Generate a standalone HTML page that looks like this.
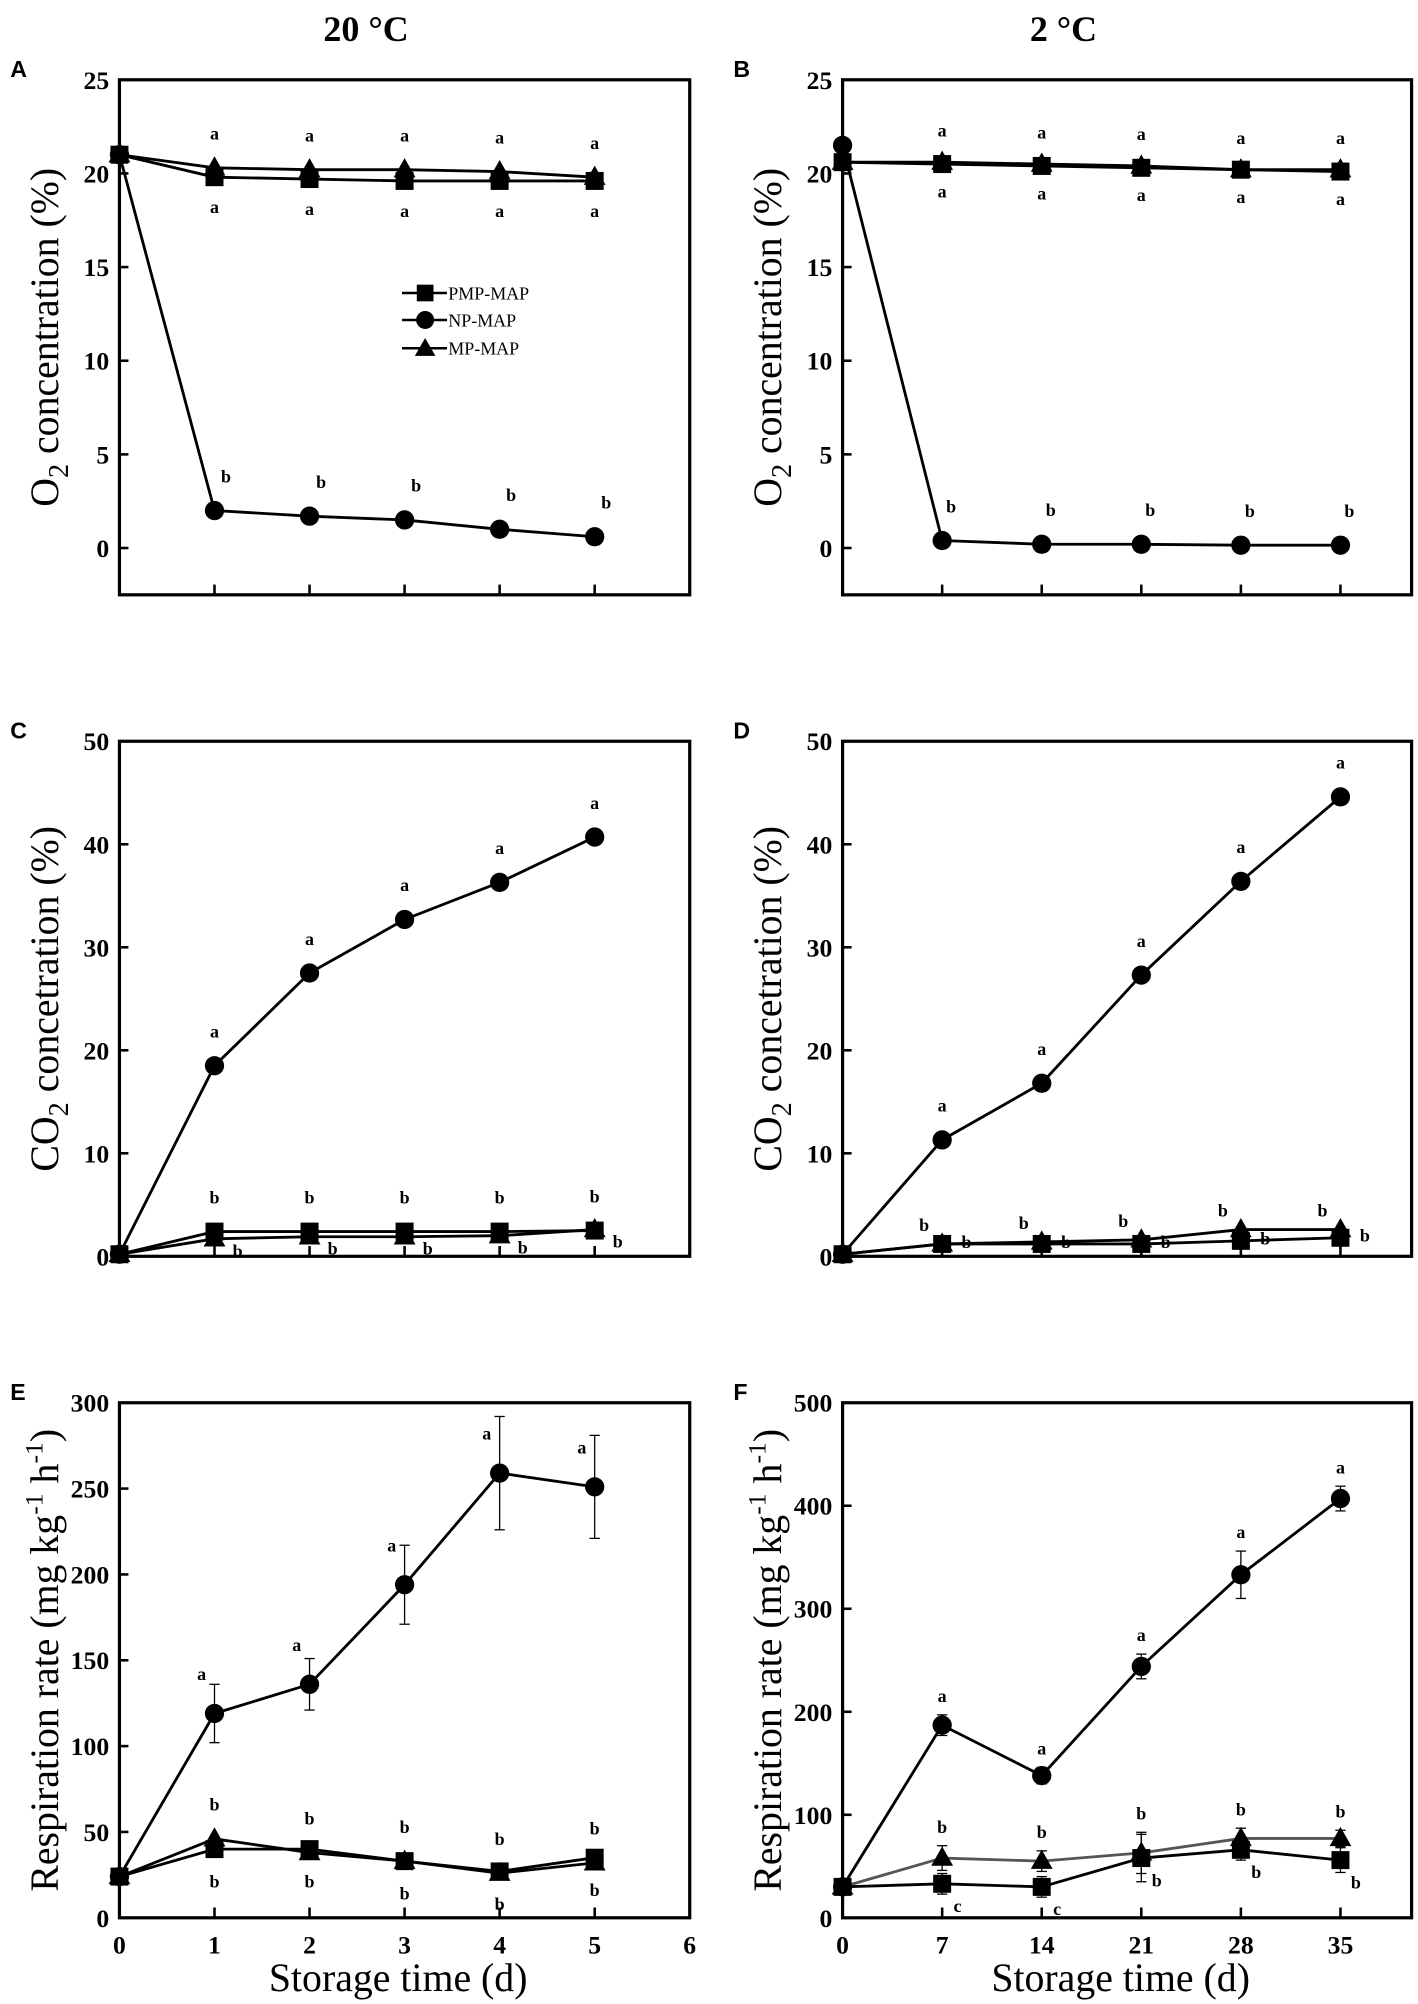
<!DOCTYPE html>
<html><head><meta charset="utf-8"><style>
html,body{margin:0;padding:0;background:#fff}
svg{display:block}
.tk{font-family:"Liberation Serif",serif;font-weight:bold;font-size:20px}
.lt{font-family:"Liberation Serif",serif;font-weight:bold;font-size:14px}
.yt{font-family:"Liberation Serif",serif;font-size:31px}
.pl{font-family:"Liberation Sans",sans-serif;font-weight:bold;font-size:18px}
</style></head><body>
<svg id="fig" width="1418" height="2004" viewBox="0 0 1104 1560" xmlns="http://www.w3.org/2000/svg">
<text x="285" y="32" text-anchor="middle" class="yt" style="font-weight:bold;font-size:28px">20 °C</text>
<text x="828" y="32" text-anchor="middle" class="yt" style="font-weight:bold;font-size:28px">2 °C</text>
</svg>
<script>
// ---- data ----
const daysWarm = [0,1,2,3,4,5];
const daysCold = [0,7,14,21,28,35];
const xTicksWarm = [0,1,2,3,4,5,6];
const xTicksCold = [0,7,14,21,28,35];
const yTicksO2 = [0,5,10,15,20,25];
const yTicksCO2 = [0,10,20,30,40,50];
const yTicksE = [0,50,100,150,200,250,300];
const yTicksF = [0,100,200,300,400,500];

const aPMP = [21,19.8,19.7,19.6,19.6,19.6];
const aNP  = [21,2.0,1.7,1.5,1.0,0.6];
const aMP  = [21,20.3,20.2,20.2,20.1,19.8];
const bPMP = [20.6,20.5,20.4,20.3,20.2,20.1];
const bNP  = [21.5,0.4,0.2,0.2,0.15,0.15];
const bMP  = [20.6,20.6,20.5,20.4,20.2,20.2];
const cPMP = [0.2,2.4,2.4,2.4,2.4,2.5];
const cNP  = [0.2,18.5,27.5,32.7,36.3,40.7];
const cMP  = [0.2,1.7,1.9,1.9,2.0,2.6];
const dPMP = [0.2,1.2,1.2,1.2,1.5,1.8];
const dNP  = [0.2,11.3,16.8,27.3,36.4,44.6];
const dMP  = [0.2,1.2,1.4,1.6,2.6,2.6];
const ePMP = [24,40,40,33,27,35];
const eNP  = [24,119,136,194,259,251];
const eNPerr = [0,17,15,23,33,30];
const eMP  = [24,46,38,33,26,32];
const fPMP = [30,33,30,58,66,56];
const fPMPerr = [0,10,10,23,10,12];
const fNP  = [30,187,138,244,333,407];
const fNPerr = [0,10,8,12,23,12];
const fMP  = [30,58,55,63,77,77];
const fMPerr = [0,12,10,20,10,8];

const lettersA = {NP:['','b','b','b','b','b'], MP:['','a','a','a','a','a'], PMP:['','a','a','a','a','a']};
const lettersC = {NP:['','a','a','a','a','a'], PMP:['','b','b','b','b','b'], MP:['','b','b','b','b','b']};
const lettersE = {NP:['','a','a','a','a','a'], MP:['','b','b','b','b','b'], PMP:['','b','b','b','b','b']};
const lettersF = {NP:['','a','a','a','a','a'], MP:['','b','b','b','b','b'], PMP:['','c','c','b','b','b']};

const NS='http://www.w3.org/2000/svg';
const svg=document.getElementById('fig');
function mk(tag,attrs,parent){const e=document.createElementNS(NS,tag);for(const k in attrs)e.setAttribute(k,attrs[k]);(parent||svg).appendChild(e);return e;}

function panel(p){
  const g=mk('g',{});
  
  
  const X=v=>p.x0+(v-p.xmin)/(p.xmax-p.xmin)*(p.x1-p.x0);
  const Y=v=>p.y1-(v-p.ymin)/(p.ymax-p.ymin)*(p.y1-p.y0);
  const box=mk('rect',{x:p.x0,y:p.y0,width:p.x1-p.x0,height:p.y1-p.y0,fill:'none',stroke:'#000','stroke-width':2.5},g);
  
  
  p.yt.forEach(v=>{
    mk('line',{x1:p.x0,x2:p.x0+7,y1:Y(v),y2:Y(v),stroke:'#000','stroke-width':2},g);
    const t=mk('text',{x:p.x0-8,y:Y(v)+7,'text-anchor':'end',class:'tk'},g);t.textContent=v;
    
    
  });
  p.xt.forEach(v=>{
    if(v>p.xmin) mk('line',{x1:X(v),x2:X(v),y1:p.y1,y2:p.y1-8,stroke:'#000','stroke-width':2},g);
    if(p.xlab){const t=mk('text',{x:X(v),y:p.y1+28,'text-anchor':'middle',class:'tk'},g);t.textContent=v;
      
      }
  });
  if(p.xlab){const t=mk('text',{x:(p.x0+p.x1)/2-5,y:p.y1+57,'text-anchor':'middle',class:'yt'},g);t.textContent='Storage time (d)';
    
    }
  const yc=(p.y0+p.y1)/2;
  const yt=mk('text',{x:0,y:0,'text-anchor':'middle',class:'yt',transform:`translate(${p.x0-48},${yc}) rotate(-90)`},g);
  yt.innerHTML=p.ytitle;
  
  
  const pl=mk('text',{x:p.x0-85,y:p.y0-2,class:'pl'},g);pl.textContent=p.label;
  
  
  p.series.forEach(s=>{
    const sg=mk('g',{},g);
    
    
    if(s.err) s.vals.forEach((v,i)=>{ if(s.err[i]>0){
      mk('line',{x1:X(p.xs[i]),x2:X(p.xs[i]),y1:Y(v-s.err[i]),y2:Y(v+s.err[i]),stroke:'#000','stroke-width':1},sg);
      [v-s.err[i],v+s.err[i]].forEach(e=>mk('line',{x1:X(p.xs[i])-4,x2:X(p.xs[i])+4,y1:Y(e),y2:Y(e),stroke:'#000','stroke-width':1},sg));
    }});
    mk('polyline',{points:s.vals.map((v,i)=>X(p.xs[i])+','+Y(v)).join(' '),fill:'none',stroke:s.color||'#000','stroke-width':2.2},sg);
    s.vals.forEach((v,i)=>{const cx=X(p.xs[i]),cy=Y(v);let m;
      if(s.m==='c') m=mk('circle',{cx:cx,cy:cy,r:7.5,fill:'#000'},sg);
      else if(s.m==='s') m=mk('rect',{x:cx-7,y:cy-7,width:14,height:14,fill:'#000'},sg);
      else m=mk('polygon',{points:`${cx},${cy-9} ${cx-8.5},${cy+6} ${cx+8.5},${cy+6}`,fill:'#000'},sg);
      
      
    });
    if(s.let) s.vals.forEach((v,i)=>{ if(!s.let[i])return;
      const top=(s.err&&!s.noErrLet)?v+s.err[i]:v;
      const ly = s.pos==='below'? Y(v)+s.dy : Y(top)-s.dy;
      const t=mk('text',{x:X(p.xs[i])+(s.dx||0),y:ly,'text-anchor':'middle',class:'lt'},sg);t.textContent=s.let[i];
      
      
    });
  });
}
const L={x0:93,x1:537}, R={x0:656,x1:1099};
const yO2='O<tspan dy="8" font-size="22">2</tspan><tspan dy="-8"> concentration (%)</tspan>';
const yCO2='CO<tspan dy="8" font-size="22">2</tspan><tspan dy="-8"> concetration (%)</tspan>';
const yR='Respiration rate (mg kg<tspan dy="-12" font-size="20">-1</tspan><tspan dy="12"> h</tspan><tspan dy="-12" font-size="20">-1</tspan><tspan dy="12">)</tspan>';
panel({name:'panel-a-o2-20c',label:'A',...L,y0:62,y1:463,xmin:0,xmax:6,ymin:-2.5,ymax:25,xs:daysWarm,xt:[1,2,3,4,5],yt:yTicksO2,ytitle:yO2,
  series:[{name:'pmp-map-series',vals:aPMP,m:'s',let:lettersA.PMP,pos:'below',dy:28},
          {name:'np-map-series',vals:aNP,m:'c',let:lettersA.NP,dy:22,dx:9},
          {name:'mp-map-series',vals:aMP,m:'t',let:lettersA.MP,dy:22}]});
panel({name:'panel-b-o2-2c',label:'B',...R,y0:62,y1:463,xmin:0,xmax:40,ymin:-2.5,ymax:25,xs:daysCold,xt:[7,14,21,28,35],yt:yTicksO2,ytitle:yO2,
  series:[{name:'pmp-map-series',vals:bPMP,m:'s',let:lettersA.PMP,pos:'below',dy:26},
          {name:'np-map-series',vals:bNP,m:'c',let:lettersA.NP,dy:22,dx:7},
          {name:'mp-map-series',vals:bMP,m:'t',let:lettersA.MP,dy:20}]});
panel({name:'panel-c-co2-20c',label:'C',...L,y0:577,y1:978,xmin:0,xmax:6,ymin:0,ymax:50,xs:daysWarm,xt:[1,2,3,4,5],yt:yTicksCO2,ytitle:yCO2,
  series:[{name:'pmp-map-series',vals:cPMP,m:'s',let:lettersC.PMP,dy:22},
          {name:'np-map-series',vals:cNP,m:'c',let:lettersC.NP,dy:22},
          {name:'mp-map-series',vals:cMP,m:'t',let:lettersC.MP,pos:'below',dy:14,dx:18}]});
panel({name:'panel-d-co2-2c',label:'D',...R,y0:577,y1:978,xmin:0,xmax:40,ymin:0,ymax:50,xs:daysCold,xt:[7,14,21,28,35],yt:yTicksCO2,ytitle:yCO2,
  series:[{name:'pmp-map-series',vals:dPMP,m:'s',let:lettersC.PMP,dy:-3,dx:19},
          {name:'np-map-series',vals:dNP,m:'c',let:lettersC.NP,dy:22},
          {name:'mp-map-series',vals:dMP,m:'t',let:lettersC.MP,dy:10,dx:-14}]});
panel({name:'panel-e-respiration-20c',label:'E',...L,y0:1092,y1:1493,xmin:0,xmax:6,ymin:0,ymax:300,xs:daysWarm,xt:xTicksWarm,xlab:true,yt:yTicksE,ytitle:yR,
  series:[{name:'pmp-map-series',vals:ePMP,m:'s',let:lettersE.PMP,pos:'below',dy:30},
          {name:'np-map-series',vals:eNP,m:'c',err:eNPerr,noErrLet:true,let:lettersE.NP,dy:26,dx:-10},
          {name:'mp-map-series',vals:eMP,m:'t',let:lettersE.MP,dy:22}]});
panel({name:'panel-f-respiration-2c',label:'F',...R,y0:1092,y1:1493,xmin:0,xmax:40,ymin:0,ymax:500,xs:daysCold,xt:xTicksCold,xlab:true,yt:yTicksF,ytitle:yR,
  series:[{name:'mp-map-series',vals:fMP,m:'t',color:'#555',err:fMPerr,let:lettersF.MP,dy:10},
          {name:'pmp-map-series',vals:fPMP,m:'s',err:fPMPerr,noErrLet:true,let:lettersF.PMP,pos:'below',dy:22,dx:12},
          {name:'np-map-series',vals:fNP,m:'c',err:fNPerr,let:lettersF.NP,dy:10}]});

// legend
const lg=mk('g',{});


[['PMP-MAP','s',228],['NP-MAP','c',249],['MP-MAP','t',271]].forEach(([n,m,y])=>{
  const e=mk('g',{},lg);
  
  
  mk('line',{x1:313,x2:348,y1:y,y2:y,stroke:'#000','stroke-width':2},e);
  const cx=331;
  if(m==='c') mk('circle',{cx:cx,cy:y,r:7,fill:'#000'},e);
  else if(m==='s') mk('rect',{x:cx-6.5,y:y-6.5,width:13,height:13,fill:'#000'},e);
  else mk('polygon',{points:`${cx},${y-8} ${cx-8},${y+6} ${cx+8},${y+6}`,fill:'#000'},e);
  const t=mk('text',{x:349,y:y+5,style:'font-family:"Liberation Serif",serif;font-size:14px'},e);t.textContent=n;
});
</script>
</body></html>
